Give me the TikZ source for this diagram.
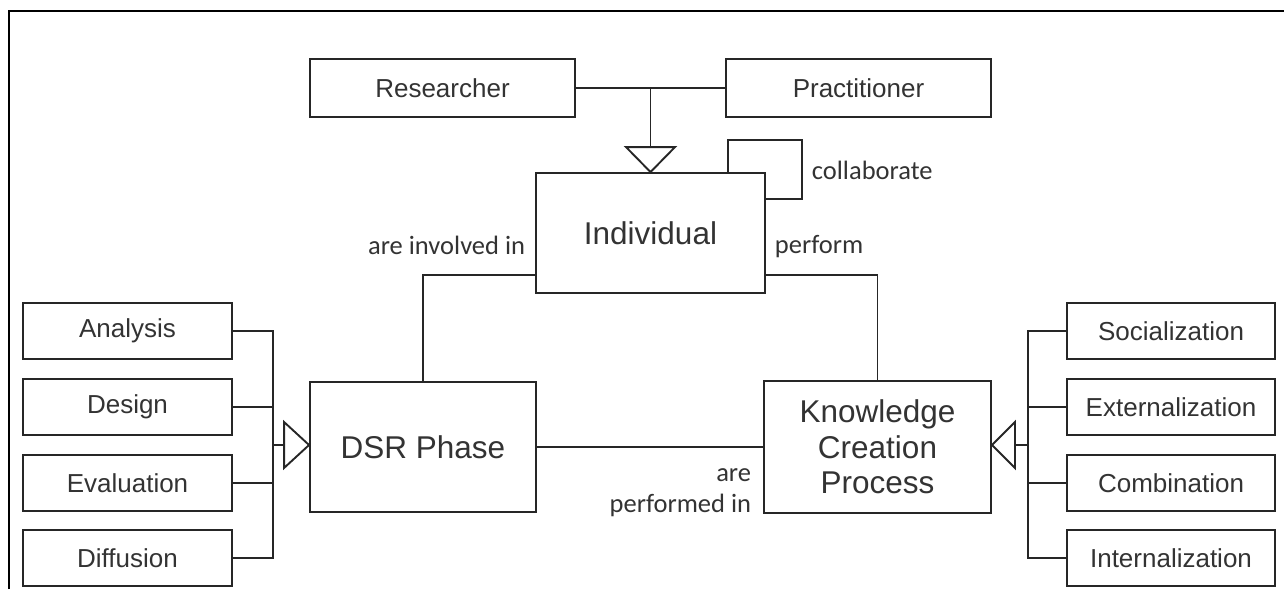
\documentclass[tikz,border=0pt]{standalone}
\usepackage{fontspec}
\setmainfont{Liberation Sans}
\newfontfamily\lblfont{Carlito}
\usetikzlibrary{calc}
\begin{document}
\begin{tikzpicture}[x=1pt,y=-1pt,
  line width=1.9pt, draw=black!85,
  box/.style={draw=black!85, line width=1.9pt, rectangle, inner sep=0pt, align=center, text=black!80},
  small/.style={box, minimum width=209pt, minimum height=56pt, font=\fontsize{26}{30}\selectfont},
  big/.style={box, font=\fontsize{31.5}{35.5}\selectfont},
  lbl/.style={font=\lblfont\fontsize{26.5}{31}\selectfont, text=black!80, inner sep=0pt},
  wire/.style={draw=black!85, line width=1.9pt},
  tri/.style={draw=black!85, line width=1.9pt, fill=white, line join=miter}
]
\useasboundingbox (0,0) rectangle (1284,589);
\draw[line width=2.8pt, black] (9,589) -- (9,11) -- (1284,11);

% top boxes
\node[small, minimum width=265pt, minimum height=58pt] (res) at (442.5,88) {Researcher};
\node[small, minimum width=265pt, minimum height=58pt] (pra) at (858.5,88) {Practitioner};
\node[big, minimum width=229pt, minimum height=120pt] (ind) at (650.5,233) {Individual};
\node[big, minimum width=226pt, minimum height=130pt] (dsr) at (423,447) {DSR Phase};
\node[big, minimum width=227pt, minimum height=132pt] (kcp) at (877.5,447) {Knowledge\\Creation\\Process};

% left boxes
\node[small] (ana) at (127.5,331) {Analysis};
\node[small] (des) at (127.5,407) {Design};
\node[small] (eva) at (127.5,483) {Evaluation};
\node[small] (dif) at (127.5,558) {Diffusion};
% right boxes
\node[small, minimum width=208pt] (soc) at (1171,331) {Socialization};
\node[small, minimum width=208pt] (ext) at (1171,407) {Externalization};
\node[small, minimum width=208pt] (com) at (1171,483) {Combination};
\node[small, minimum width=208pt] (int) at (1171,558) {Internalization};

% generalization researcher/practitioner -> individual
\coordinate (jt) at (650.5,87);
\draw[wire] (res.east) -- (pra.west);
\coordinate (tb) at ($(ind.north)+(0,-25)$);
\draw[wire] (jt) -- (tb);
\draw[tri] ($(tb)+(-24.5,0)$) -- ($(tb)+(24.5,0)$) -- (ind.north) -- cycle;

% collaborate loop
\coordinate (c1) at ($(ind.north east)+(-38,0)$);
\coordinate (c2) at ($(ind.east)+(0,-34)$);
\draw[wire] (c1) -- ++(0,-32) -| ($(c2)+(36,0)$) -- (c2);
\node[lbl, anchor=west] (lcol) at (811,170) {collaborate};

% individual - dsr / kcp
\coordinate (iw) at ($(ind.south west)+(0,-19)$);
\coordinate (ie) at ($(ind.south east)+(0,-19)$);
\draw[wire] (iw) -| (dsr.north);
\draw[wire] (ie) -| (kcp.north);
\node[lbl, anchor=east] (linv) at (526,245) {are involved in};
\node[lbl, anchor=west] (lper) at (774,247) {perform};

% dsr - kcp
\draw[wire] (dsr.east) -- (kcp.west);
\node[lbl, anchor=east, align=right] (lpin) at (752,493) {are\\performed in};

% left tree
\coordinate (lb) at (273,445);
\draw[wire] (ana.east) -| (lb);
\draw[wire] (dif.east) -| (lb);
\draw[wire] (des.east) -- (des.east -| lb);
\draw[wire] (eva.east) -- (eva.east -| lb);
\coordinate (lt) at ($(dsr.west)+(-25,-2)$);
\draw[wire] (lb) -- (lt);
\draw[tri] ($(lt)+(0,-23)$) -- ($(lt)+(0,23)$) -- ($(dsr.west)+(0,-2)$) -- cycle;

% right tree
\coordinate (rb) at (1028,445);
\draw[wire] (soc.west) -| (rb);
\draw[wire] (int.west) -| (rb);
\draw[wire] (ext.west) -- (ext.west -| rb);
\draw[wire] (com.west) -- (com.west -| rb);
\coordinate (rt) at ($(kcp.east)+(23,-2)$);
\draw[wire] (rb) -- (rt);
\draw[tri] ($(rt)+(0,-23)$) -- ($(rt)+(0,23)$) -- ($(kcp.east)+(0,-2)$) -- cycle;
\end{tikzpicture}
\end{document}
